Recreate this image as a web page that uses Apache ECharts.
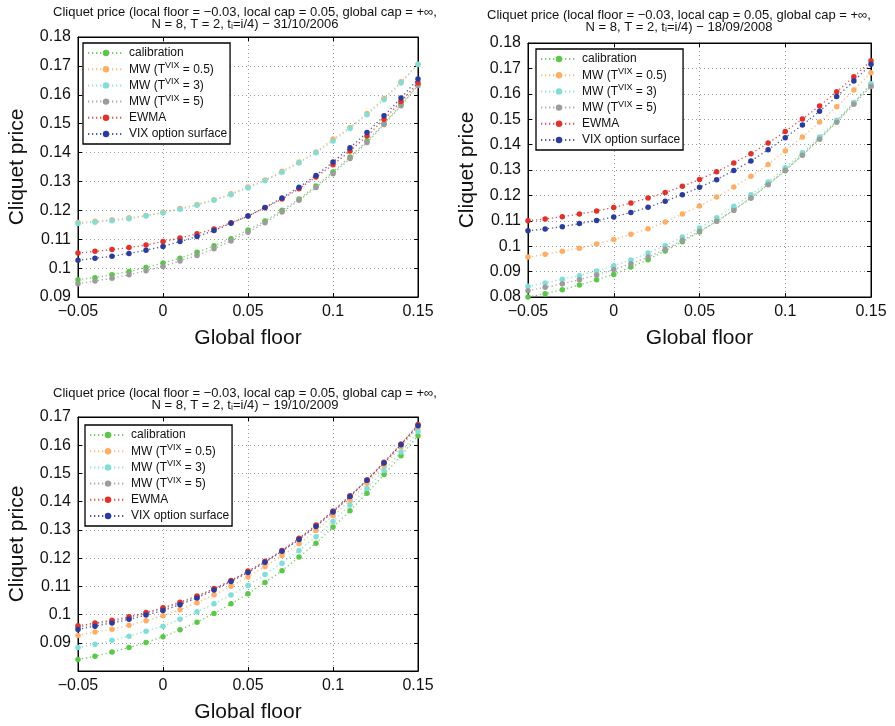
<!DOCTYPE html>
<html>
<head>
<meta charset="utf-8">
<script src="https://cdn.jsdelivr.net/npm/echarts@6/dist/echarts.min.js"></script>
<style>html,body{margin:0;padding:0;background:#fff}#c{width:895px;height:726px}</style>
</head>
<body>
<div id="c"></div>
<script>
var floors = [-0.05,-0.04,-0.03,-0.02,-0.01,0,0.01,0.02,0.03,0.04,0.05,0.06,0.07,0.08,0.09,0.10,0.11,0.12,0.13,0.14,0.15];
var seriesNames = ['calibration','MW (T^VIX = 0.5)','MW (T^VIX = 3)','MW (T^VIX = 5)','EWMA','VIX option surface'];
var dates = ['31/10/2006','18/09/2008','19/10/2009'];
var xTicks = [-0.05, 0, 0.05, 0.1, 0.15];

// 31/10/2006
var cal1   = [0.0960,0.0967,0.0977,0.0988,0.1002,0.1018,0.1034,0.1055,0.1077,0.1102,0.1132,0.1163,0.1200,0.1239,0.1284,0.1333,0.1385,0.1440,0.1500,0.1566,0.1635];
var mw05_1 = [0.1158,0.1162,0.1167,0.1174,0.1182,0.1193,0.1206,0.1220,0.1237,0.1257,0.1281,0.1305,0.1335,0.1367,0.1402,0.1447,0.1487,0.1535,0.1587,0.1645,0.1705];
var mw3_1  = [0.1154,0.1159,0.1164,0.1171,0.1180,0.1191,0.1204,0.1218,0.1235,0.1254,0.1277,0.1302,0.1332,0.1364,0.1399,0.1440,0.1483,0.1531,0.1583,0.1641,0.1706];
var mw5_1  = [0.0946,0.0955,0.0965,0.0977,0.0991,0.1006,0.1025,0.1044,0.1067,0.1094,0.1124,0.1157,0.1194,0.1235,0.1279,0.1327,0.1379,0.1435,0.1497,0.1562,0.1632];
var ewma1  = [0.1052,0.1058,0.1064,0.1071,0.1080,0.1092,0.1104,0.1119,0.1135,0.1157,0.1180,0.1209,0.1239,0.1275,0.1315,0.1358,0.1405,0.1457,0.1515,0.1577,0.1642];
var vix1   = [0.1027,0.1034,0.1041,0.1051,0.1062,0.1075,0.1092,0.1109,0.1130,0.1155,0.1180,0.1210,0.1243,0.1280,0.1321,0.1367,0.1417,0.1469,0.1527,0.1589,0.1655];

// 18/09/2008
var cal2   = [0.0800,0.0813,0.0829,0.0847,0.0868,0.0889,0.0918,0.0947,0.0981,0.1018,0.1056,0.1098,0.1144,0.1190,0.1244,0.1297,0.1360,0.1423,0.1492,0.1564,0.1636];
var mw05_2 = [0.0957,0.0968,0.0980,0.0992,0.1009,0.1026,0.1047,0.1069,0.1095,0.1127,0.1158,0.1194,0.1233,0.1275,0.1322,0.1375,0.1430,0.1489,0.1549,0.1615,0.1683];
var mw3_2  = [0.0842,0.0855,0.0870,0.0884,0.0902,0.0923,0.0946,0.0973,0.1003,0.1036,0.1072,0.1112,0.1157,0.1203,0.1253,0.1309,0.1368,0.1430,0.1496,0.1566,0.1640];
var mw5_2  = [0.0825,0.0838,0.0852,0.0868,0.0887,0.0908,0.0931,0.0957,0.0988,0.1023,0.1059,0.1098,0.1141,0.1190,0.1242,0.1299,0.1358,0.1421,0.1488,0.1559,0.1629];
var ewma2  = [0.1100,0.1107,0.1116,0.1127,0.1139,0.1152,0.1170,0.1190,0.1211,0.1236,0.1263,0.1293,0.1328,0.1364,0.1406,0.1452,0.1501,0.1552,0.1608,0.1667,0.1730];
var vix2   = [0.1061,0.1068,0.1077,0.1089,0.1101,0.1115,0.1133,0.1153,0.1177,0.1203,0.1232,0.1262,0.1298,0.1335,0.1380,0.1427,0.1477,0.1531,0.1589,0.1650,0.1716];

// 19/10/2009
var cal3   = [0.0841,0.0852,0.0867,0.0883,0.0901,0.0921,0.0946,0.0973,0.1004,0.1038,0.1074,0.1114,0.1155,0.1204,0.1253,0.1310,0.1368,0.1430,0.1496,0.1563,0.1634];
var mw05_3 = [0.0926,0.0938,0.0948,0.0962,0.0978,0.0996,0.1017,0.1042,0.1070,0.1100,0.1133,0.1170,0.1209,0.1251,0.1298,0.1350,0.1404,0.1465,0.1527,0.1594,0.1662];
var mw3_3  = [0.0883,0.0895,0.0909,0.0923,0.0941,0.0959,0.0983,0.1010,0.1038,0.1069,0.1103,0.1142,0.1182,0.1227,0.1276,0.1330,0.1388,0.1447,0.1511,0.1576,0.1649];
var mw5_3  = [0.0955,0.0966,0.0976,0.0989,0.1004,0.1020,0.1040,0.1063,0.1090,0.1119,0.1152,0.1187,0.1226,0.1268,0.1315,0.1365,0.1420,0.1476,0.1539,0.1603,0.1671];
var ewma3  = [0.0960,0.0970,0.0980,0.0992,0.1007,0.1024,0.1044,0.1066,0.1092,0.1121,0.1154,0.1189,0.1227,0.1270,0.1317,0.1367,0.1421,0.1477,0.1540,0.1604,0.1673];
var vix3   = [0.0947,0.0959,0.0970,0.0983,0.0998,0.1014,0.1035,0.1059,0.1087,0.1117,0.1149,0.1185,0.1224,0.1266,0.1312,0.1363,0.1418,0.1476,0.1537,0.1602,0.1669];

var yRanges = [[0.09,0.18],[0.08,0.18],[0.08,0.17]];
var panelData = [
  [cal1, mw05_1, mw3_1, mw5_1, ewma1, vix1],
  [cal2, mw05_2, mw3_2, mw5_2, ewma2, vix2],
  [cal3, mw05_3, mw3_3, mw5_3, ewma3, vix3]
];

var colors = ['#5cc64a','#fdae66','#82ddd6','#9c9c9c','#e0322b','#2c3c9c'];
var FONT = '"Liberation Sans", Arial, Helvetica, sans-serif';

var grids = [
  {left:78, top:37, width:340, height:260},
  {left:528, top:43, width:343, height:254},
  {left:78, top:417, width:340, height:254}
];
var titlePos = [{x:245, y:6},{x:679, y:9},{x:245, y:387}];
var legendPos = [{x:83, y:43},{x:536, y:49},{x:85, y:425}];

function fmtTick(v){
  var s = String(+v.toFixed(2));
  return s.replace('-', '\u2212');
}

var option = {
  backgroundColor:'#fff',
  animation:false,
  textStyle:{fontFamily:FONT},
  title:[], grid:[], xAxis:[], yAxis:[], legend:[], series:[]
};

for (var p=0; p<3; p++){
  var g = grids[p];
  option.grid.push({left:g.left, top:g.top, width:g.width, height:g.height, show:true, borderColor:'#000', borderWidth:1, containLabel:false});
  option.title.push({
    text:'Cliquet price (local floor = \u22120.03, local cap = 0.05, global cap = +\u221e,\nN = 8, T = 2, t{sub|i}=i/4) \u2212 ' + dates[p],
    left:titlePos[p].x, top:titlePos[p].y, textAlign:'center', padding:0,
    textStyle:{fontFamily:FONT, fontSize:13, fontWeight:'normal', color:'#111', lineHeight:12.5,
      rich:{sub:{fontFamily:FONT, fontSize:9, lineHeight:7, verticalAlign:'bottom', color:'#111'}}}
  });
  var yr = yRanges[p];
  option.xAxis.push({
    gridIndex:p, type:'value', position:'bottom', min:-0.05, max:0.15, interval:0.05,
    name:'Global floor', nameLocation:'middle', nameGap:31,
    nameTextStyle:{fontFamily:FONT, fontSize:21, color:'#111'},
    axisLine:{show:true, onZero:false, lineStyle:{color:'#000', width:1}},
    axisTick:{show:true, inside:true, length:4, lineStyle:{color:'#000'}},
    axisLabel:{fontFamily:FONT, fontSize:16, color:'#111', margin:7, formatter:fmtTick, showMinLabel:true, showMaxLabel:true},
    splitLine:{show:true, lineStyle:{type:[1,3], color:'#9a9a9a', width:1}}
  });
  option.xAxis.push({
    gridIndex:p, type:'value', position:'top', min:-0.05, max:0.15, interval:0.05,
    axisLine:{show:true, onZero:false, lineStyle:{color:'#000', width:1}},
    axisTick:{show:true, inside:true, length:4, lineStyle:{color:'#000'}},
    axisLabel:{show:false}, splitLine:{show:false}
  });
  option.yAxis.push({
    gridIndex:p, type:'value', position:'left', min:yr[0], max:yr[1], interval:0.01,
    name:'Cliquet price', nameLocation:'middle', nameGap:50, nameRotate:90,
    nameTextStyle:{fontFamily:FONT, fontSize:21, color:'#111'},
    axisLine:{show:true, onZero:false, lineStyle:{color:'#000', width:1}},
    axisTick:{show:true, inside:true, length:4, lineStyle:{color:'#000'}},
    axisLabel:{fontFamily:FONT, fontSize:16, color:'#111', margin:7, formatter:fmtTick, showMinLabel:(p!==2), showMaxLabel:true},
    splitLine:{show:true, lineStyle:{type:[1,3], color:'#9a9a9a', width:1}}
  });
  option.yAxis.push({
    gridIndex:p, type:'value', position:'right', min:yr[0], max:yr[1], interval:0.01,
    axisLine:{show:true, onZero:false, lineStyle:{color:'#000', width:1}},
    axisTick:{show:true, inside:true, length:4, lineStyle:{color:'#000'}},
    axisLabel:{show:false}, splitLine:{show:false}
  });
  option.legend.push({
    data:seriesNames.slice(), left:legendPos[p].x, top:legendPos[p].y, orient:'vertical',
    itemWidth:36, itemHeight:8, itemGap:0.2, padding:[2,3,2,4],
    borderColor:'#000', borderWidth:1.3, backgroundColor:'#fff', selectedMode:false,
    formatter:function(name){ return name.replace(/T\^VIX/, 'T{sup|VIX}'); },
    textStyle:{fontFamily:FONT, fontSize:12, color:'#111', lineHeight:16,
      rich:{sup:{fontFamily:FONT, fontSize:9, lineHeight:10, verticalAlign:'top', color:'#111'}}}
  });
  for (var s=0; s<6; s++){
    var arr = panelData[p][s];
    var pts = [];
    for (var i=0; i<floors.length; i++) pts.push([floors[i], arr[i]]);
    option.series.push({
      name:seriesNames[s], type:'line', xAxisIndex:2*p, yAxisIndex:2*p, data:pts,
      symbol:'circle', symbolSize:5.5, showSymbol:true, clip:false,
      itemStyle:{color:colors[s]},
      lineStyle:{color:colors[s], width:1.3, type:[1.3,2.7], opacity:0.85},
      emphasis:{disabled:true}, z:2+s
    });
  }
}

var chart = echarts.init(document.getElementById('c'), null, {renderer:'canvas'});
chart.setOption(option);
</script>
</body>
</html>
